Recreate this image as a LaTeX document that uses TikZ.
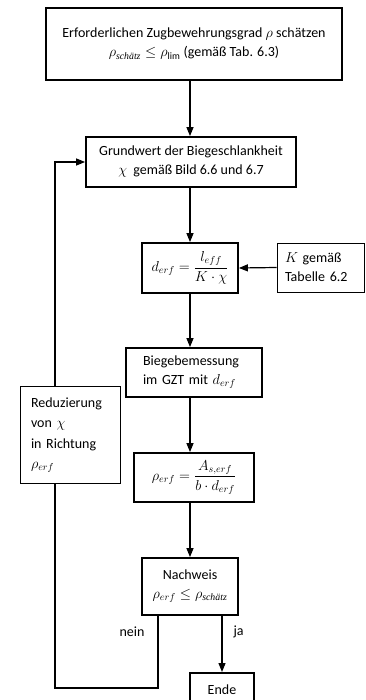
\documentclass[tikz,border=0pt]{standalone}
\usepackage{amsmath}
\usepackage{fontspec}
\setmainfont{Carlito}
\newfontfamily\subserif{Liberation Serif}
\newcommand{\schaetz}{\text{\subserif\itshape schätz}}
\usetikzlibrary{arrows.meta,calc}
\begin{document}
\begin{tikzpicture}[x=1pt,y=-1pt,
  font=\fontsize{14}{19}\selectfont,
  thickbox/.style={draw, line width=1.8pt, inner sep=0pt, align=center},
  thinbox/.style={draw, line width=0.9pt, inner sep=0pt},
  arr/.style={line width=1.2pt, -{Triangle[length=9pt,width=7pt]}},
  ln/.style={line width=1.2pt}]
\useasboundingbox (0,0) rectangle (365,700);
\clip (0,0) rectangle (365,700);
\node[thickbox, minimum width=296pt, minimum height=72pt] (b1) at (194,44)
  {Erforderlichen Zugbewehrungsgrad $\rho$ schätzen\\
   $\rho_{\schaetz}\leq\rho_{\mathrm{lim}}$ (gemäß Tab. 6.3)};
\node[thickbox, minimum width=210pt, minimum height=50pt] (b2) at (191,162)
  {Grundwert der Biegeschlankheit\\
   $\chi$\ \ gemäß Bild 6.6 und 6.7};
\node[thickbox, minimum width=96pt, minimum height=50pt] (b3) at (190,268)
  {$d_{erf}=\dfrac{l_{eff}}{K\cdot\chi}$};
\node[thinbox, minimum width=87pt, minimum height=49pt, inner xsep=8pt, text width=71pt, align=left] (k) at (320.5,267.5)
  {$K$ gemäß\\Tabelle 6.2};
\node[thickbox, minimum width=136pt, minimum height=49pt, inner xsep=17pt, text width=102pt, align=left] (b4) at (194,372.5)
  {Biegebemessung\\im GZT mit $d_{erf}$};
\node[thickbox, minimum width=120pt, minimum height=49pt] (b5) at (194,477.5)
  {$\rho_{erf}=\dfrac{A_{s,erf}}{b\cdot d_{erf}}$};
\node[thickbox, minimum width=96pt, minimum height=57pt] (b6) at (190,586.5)
  {Nachweis\\ $\rho_{erf}\leq\rho_{\schaetz}$};
\node[thinbox, minimum width=100pt, minimum height=97pt, inner xsep=11pt, text width=78pt, align=left,
  font=\fontsize{14}{20.5}\selectfont] (red) at (70,435)
  {Reduzierung\\von $\chi$\\in Richtung\\$\rho_{erf}$};
\node[thickbox, minimum width=64pt, minimum height=40pt, anchor=north] (ende) at (222,672)
  {\raisebox{7pt}{Ende}};
\coordinate (c1) at (158,688);
\coordinate (c2) at (55,688);
\draw[arr] (b1.south -| b3) -- (b2.north -| b3);
\draw[arr] (b2.south -| b3) -- (b3.north);
\draw[arr] (k.west) -- (b3.east);
\draw[arr] (b3.south) -- (b4.north -| b3);
\draw[arr] (b4.south -| b3) -- (b5.north -| b3);
\draw[arr] (b5.south -| b3) -- (b6.north);
\draw[arr] (b6.south -| ende) -- (ende.north);
\draw[ln] (b6.south -| c1) -- (c1) -- (c2) -- (red.south -| c2);
\draw[arr] (red.north -| c2) |- (b2.west);
\node[anchor=east] (nein) at (148,632) {nein};
\node[anchor=west] (ja) at (230,632) {ja};
\end{tikzpicture}
\end{document}
